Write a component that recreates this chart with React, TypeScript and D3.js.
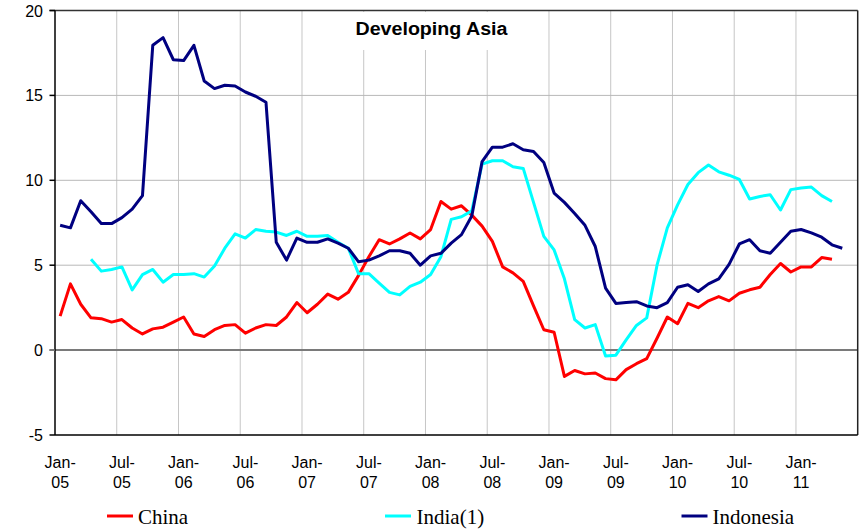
import React from "react";
import * as d3 from "d3";

const months: string[] = [
  "Jan-05","Feb-05","Mar-05","Apr-05","May-05","Jun-05","Jul-05","Aug-05","Sep-05","Oct-05","Nov-05","Dec-05",
  "Jan-06","Feb-06","Mar-06","Apr-06","May-06","Jun-06","Jul-06","Aug-06","Sep-06","Oct-06","Nov-06","Dec-06",
  "Jan-07","Feb-07","Mar-07","Apr-07","May-07","Jun-07","Jul-07","Aug-07","Sep-07","Oct-07","Nov-07","Dec-07",
  "Jan-08","Feb-08","Mar-08","Apr-08","May-08","Jun-08","Jul-08","Aug-08","Sep-08","Oct-08","Nov-08","Dec-08",
  "Jan-09","Feb-09","Mar-09","Apr-09","May-09","Jun-09","Jul-09","Aug-09","Sep-09","Oct-09","Nov-09","Dec-09",
  "Jan-10","Feb-10","Mar-10","Apr-10","May-10","Jun-10","Jul-10","Aug-10","Sep-10","Oct-10","Nov-10","Dec-10",
  "Jan-11","Feb-11","Mar-11","Apr-11","May-11","Jun-11",
];

const tickMonths: string[] = [
  "Jan-05","Jul-05","Jan-06","Jul-06","Jan-07","Jul-07","Jan-08","Jul-08",
  "Jan-09","Jul-09","Jan-10","Jul-10","Jan-11",
];

const yTicks: number[] = [-5, 0, 5, 10, 15, 20];

const china: (number | null)[] = [
  2.0, 3.9, 2.7, 1.9, 1.85, 1.65, 1.8, 1.3, 0.95, 1.25, 1.35, 1.65,
  1.95, 0.95, 0.8, 1.2, 1.45, 1.5, 1.0, 1.3, 1.5, 1.45, 1.95, 2.8,
  2.2, 2.7, 3.3, 3.0, 3.4, 4.4, 5.5, 6.5, 6.25, 6.55, 6.9, 6.55,
  7.1, 8.75, 8.3, 8.5, 7.95, 7.3, 6.4, 4.9, 4.55, 4.05, 2.6, 1.2,
  1.05, -1.55, -1.2, -1.4, -1.35, -1.68, -1.75, -1.15, -0.8, -0.5, 0.7, 1.95,
  1.55, 2.75, 2.5, 2.9, 3.15, 2.9, 3.35, 3.55, 3.7, 4.45, 5.1, 4.6,
  4.9, 4.9, 5.45, 5.35, null, null,
];

const india: (number | null)[] = [
  null, null, null, 5.35, 4.65, 4.75, 4.9, 3.55, 4.45, 4.75, 4.0, 4.45,
  4.45, 4.5, 4.3, 4.95, 6.0, 6.85, 6.6, 7.1, 7.0, 6.95, 6.75, 7.0,
  6.7, 6.7, 6.75, 6.35, 6.0, 4.5, 4.5, 3.95, 3.4, 3.25, 3.75, 4.0,
  4.45, 5.5, 7.7, 7.85, 8.2, 10.95, 11.15, 11.15, 10.8, 10.7, 8.7, 6.7,
  5.9, 4.2, 1.8, 1.3, 1.5, -0.35, -0.3, 0.6, 1.45, 1.9, 5.0, 7.2,
  8.55, 9.75, 10.45, 10.9, 10.5, 10.3, 10.05, 8.9, 9.05, 9.15, 8.25, 9.45,
  9.55, 9.6, 9.1, 8.75, null, null,
];

const indonesia: (number | null)[] = [
  7.35, 7.2, 8.8, 8.15, 7.45, 7.45, 7.8, 8.3, 9.1, 17.95, 18.4, 17.1,
  17.05, 17.95, 15.85, 15.4, 15.6, 15.55, 15.2, 14.95, 14.6, 6.35, 5.3, 6.6,
  6.35, 6.35, 6.55, 6.3, 6.0, 5.2, 5.3, 5.55, 5.85, 5.85, 5.7, 5.0,
  5.55, 5.7, 6.3, 6.8, 7.9, 11.1, 11.95, 11.95, 12.15, 11.8, 11.7, 11.05,
  9.25, 8.7, 8.05, 7.35, 6.1, 3.65, 2.75, 2.8, 2.85, 2.6, 2.5, 2.8,
  3.7, 3.85, 3.45, 3.9, 4.2, 5.05, 6.25, 6.5, 5.85, 5.7, 6.35, 7.0,
  7.1, 6.9, 6.65, 6.2, 6.0, null,
];

const seriesNames = ["China", "India(1)", "Indonesia"];
const seriesColors = ["#ff0000", "#00ffff", "#000080"];

export default function App() {
  const W = 860, H = 530;
  const left = 55, right = 857.7, top = 10.5, bottom = 435;

  const x = d3.scaleBand<string>().domain(months).range([left, right]).padding(0);
  const bw = x.bandwidth();
  const cx = (m: string) => (x(m) as number) + bw / 2;
  const y = d3.scaleLinear().domain([-5, 20]).range([bottom, top]);

  const series = [china, india, indonesia];
  const line = d3
    .line<number | null>()
    .defined((d) => d !== null)
    .x((_, i) => cx(months[i]))
    .y((d) => y(d as number));

  const legendItems = [
    { sx: 107, tx: 138 },
    { sx: 385, tx: 416.5 },
    { sx: 681.5, tx: 712.5 },
  ];

  const font = "Arial, 'Liberation Sans', Helvetica, sans-serif";
  const serif = "'Times New Roman', 'Liberation Serif', Times, serif";

  return (
    <div style={{ position: "absolute", left: 0, top: 0, width: W, height: H, background: "#fff" }}>
      <svg width={W} height={H} style={{ display: "block" }}>
        <rect x={0} y={0} width={W} height={H} fill="#ffffff" />
        {/* vertical gridlines at category boundaries */}
        {tickMonths.slice(1).map((m) => (
          <line key={"vg" + m} x1={x(m)} x2={x(m)} y1={top} y2={bottom} stroke="#c6c6c6" strokeWidth={1} />
        ))}
        {/* horizontal gridlines */}
        {yTicks.filter((v) => v !== 0 && v !== -5 && v !== 20).map((v) => (
          <line key={"hg" + v} x1={left} x2={right} y1={y(v)} y2={y(v)} stroke="#b8b8b8" strokeWidth={1} />
        ))}
        {/* title background */}
        <rect x={348} y={12} width={167} height={38} fill="#ffffff" />
        <text x={431.5} y={34.5} textAnchor="middle" fontFamily={font} fontWeight="bold" fontSize={18}
          textLength={152} lengthAdjust="spacingAndGlyphs" fill="#000">
          Developing Asia
        </text>
        {/* zero line */}
        <line x1={49.5} x2={right} y1={y(0)} y2={y(0)} stroke="#7a7a7a" strokeWidth={2} />
        {/* plot border top/right */}
        <line x1={49.5} x2={right} y1={top} y2={top} stroke="#333" strokeWidth={1.5} />
        <line x1={right} x2={right} y1={top} y2={bottom} stroke="#222" strokeWidth={1.5} />
        {/* data lines */}
        {series.map((s, k) => (
          <path key={"s" + k} d={line(s) || ""} fill="none" stroke={seriesColors[k]} strokeWidth={3}
            strokeLinejoin="round" strokeLinecap="butt" />
        ))}
        {/* axes */}
        <line x1={left} x2={left} y1={top} y2={bottom} stroke="#000" strokeWidth={1.5} />
        <line x1={left} x2={right} y1={bottom} y2={bottom} stroke="#000" strokeWidth={1.5} />
        {yTicks.map((v) => (
          <g key={"yt" + v}>
            <line x1={49.5} x2={left} y1={y(v)} y2={y(v)} stroke={v === 0 ? "#7a7a7a" : "#000"} strokeWidth={1.5} />
            <text x={43} y={y(v) + 6} textAnchor="end" fontFamily={font} fontSize={16} fill="#000">
              {v}
            </text>
          </g>
        ))}
        {tickMonths.map((m) => {
          const [mon, yr] = m.split("-");
          return (
            <text key={"xt" + m} textAnchor="middle" fontFamily={font} fontSize={16} fill="#000">
              <tspan x={cx(m)} y={467.5}>{mon + "-"}</tspan>
              <tspan x={cx(m)} y={487.5}>{yr}</tspan>
            </text>
          );
        })}
        {/* legend */}
        {seriesNames.map((n, k) => (
          <g key={"lg" + n}>
            <line x1={legendItems[k].sx} x2={legendItems[k].sx + 26} y1={516} y2={516}
              stroke={seriesColors[k]} strokeWidth={3} />
            <text x={legendItems[k].tx} y={524} fontFamily={serif} fontSize={21} fill="#000">
              {n}
            </text>
          </g>
        ))}
      </svg>
    </div>
  );
}
